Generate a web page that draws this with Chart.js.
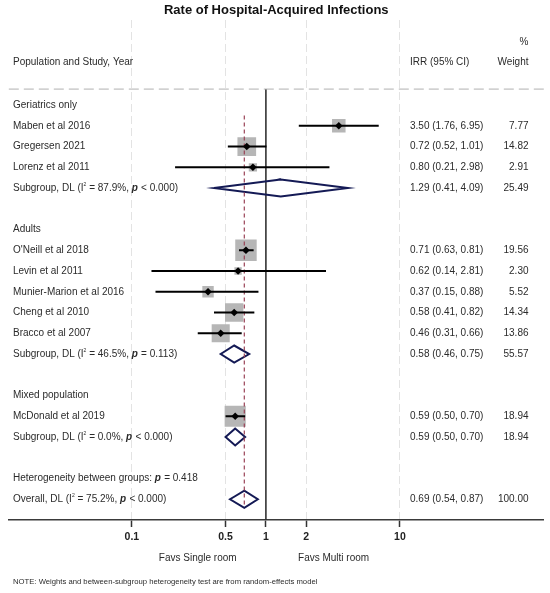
<!DOCTYPE html>
<html><head><meta charset="utf-8">
<script src="https://cdn.jsdelivr.net/npm/chart.js@4.4.1/dist/chart.umd.min.js"></script>
<style>html,body{margin:0;padding:0;background:#fff}#wrap{width:550px;height:593px;position:relative}</style>
</head><body><div id="wrap"><canvas id="c"></canvas></div>
<script>
// ---------- data ----------
const groupNames = ['Geriatrics only', 'Adults', 'Mixed population'];
const studyNames = ['Maben et al 2016', 'Gregersen 2021', 'Lorenz et al 2011',
  "O'Neill et al 2018", 'Levin et al 2011', 'Munier-Marion et al 2016', 'Cheng et al 2010', 'Bracco et al 2007',
  'McDonald et al 2019'];
const studyGroup  = [0, 0, 0, 1, 1, 1, 1, 1, 2];
const studyIRR    = [3.50, 0.72, 0.80, 0.71, 0.62, 0.37, 0.58, 0.46, 0.59];
const studyLow    = [1.76, 0.52, 0.21, 0.63, 0.14, 0.15, 0.41, 0.31, 0.50];
const studyHigh   = [6.95, 1.01, 2.98, 0.81, 2.81, 0.88, 0.82, 0.66, 0.70];
const studyWeight = [7.77, 14.82, 2.91, 19.56, 2.30, 5.52, 14.34, 13.86, 18.94];
const subIRR    = [1.29, 0.58, 0.59];
const subLow    = [0.41, 0.46, 0.50];
const subHigh   = [4.09, 0.75, 0.70];
const subWeight = [25.49, 55.57, 18.94];
const subI2     = [87.9, 46.5, 0.0];
const subP      = ['< 0.000', '= 0.113', '< 0.000'];
const hetP = '= 0.418';
const overallIRR = 0.69, overallLow = 0.54, overallHigh = 0.87, overallWeight = 100.00;
const overallI2 = 75.2, overallP = '< 0.000';
const xTickValues = [0.1, 0.5, 1, 2, 10];
const favLabels = ['Favs Single room', 'Favs Multi room'];
const favAt = [0.31, 3.2];
const titleText = 'Rate of Hospital-Acquired Infections';
const noteText = 'NOTE: Weights and between-subgroup heterogeneity test are from random-effects model';

// ---------- row layout ----------
const groupRow = [], studyRow = [], subRow = [];
let r = 0;
groupNames.forEach((g, gi) => {
  groupRow[gi] = r++;
  studyGroup.forEach((sg, si) => { if (sg === gi) studyRow[si] = r++; });
  subRow[gi] = r++;
  r++;
});
const hetRow = r++;
const overallRow = r++;
const axisRow = r;

const FAM = "'Liberation Sans', Arial, Helvetica, sans-serif";
const TXT = 10;

// ---------- datasets ----------
const ciData = [];
studyIRR.forEach((v, i) => {
  ciData.push({x: studyLow[i], y: studyRow[i]}, {x: studyHigh[i], y: studyRow[i]}, {x: null, y: null});
});
const diamondData = [];
const H = 0.41;
function addDiamond(est, lo, hi, row) {
  diamondData.push({x: lo, y: row}, {x: est, y: row - H}, {x: hi, y: row}, {x: est, y: row + H},
    {x: lo, y: row}, {x: est, y: row - H}, {x: null, y: null});
}
subIRR.forEach((v, i) => addDiamond(v, subLow[i], subHigh[i], subRow[i]));
addDiamond(overallIRR, overallLow, overallHigh, overallRow);

const boxData = studyIRR.map((v, i) => ({x: v, y: studyRow[i]}));
const boxRadius = studyWeight.map(w => 3.43 * Math.sqrt(w));

const datasets = [
  {label: 'estimate', data: studyIRR.map((v, i) => ({x: v, y: studyRow[i]})), pointStyle: 'rectRot',
    pointRadius: 3.8, backgroundColor: '#000', borderColor: '#000', borderWidth: 0, order: 0},
  {label: 'ci', data: ciData, showLine: true, borderColor: '#000', borderWidth: 2, pointRadius: 0,
    spanGaps: false, order: 1},
  {label: 'overall', data: [{x: overallIRR, y: 0.5}, {x: overallIRR, y: overallRow + 0.35}], showLine: true,
    borderColor: '#9a4256', borderWidth: 1.2, borderDash: [4, 3], pointRadius: 0, order: 2},
  {label: 'diamonds', data: diamondData, showLine: true, borderColor: '#141a55', borderWidth: 2,
    borderJoinStyle: 'miter', pointRadius: 0, spanGaps: false, order: 3},
  {label: 'weights', data: boxData, pointStyle: 'rect', pointRadius: boxRadius, backgroundColor: '#b6b6b6',
    borderWidth: 0, order: 4},
  {label: 'null', data: [{x: 1, y: -0.77}, {x: 1, y: axisRow}], showLine: true, borderColor: '#333',
    borderWidth: 1.6, pointRadius: 0, order: 5}
];

// ---------- text plugin ----------
function drawRich(ctx, parts, x, y, size) {
  let cx = x;
  for (const p of parts) {
    let dy = 0;
    if (p.s === 'sup') { ctx.font = `${size * 0.5}px ${FAM}`; dy = -size * 0.38; }
    else if (p.s === 'it') { ctx.font = `italic bold ${size}px ${FAM}`; }
    else { ctx.font = `${size}px ${FAM}`; }
    ctx.fillText(p.t, cx, y + dy);
    cx += ctx.measureText(p.t).width + (p.s === 'it' ? 0.5 : 0);
  }
}
const fmt = v => v.toFixed(2);
const ciText = (e, l, h) => `${fmt(e)} (${fmt(l)}, ${fmt(h)})`;

const textPlugin = {
  id: 'forestText',
  afterDraw(chart) {
    const {ctx, chartArea} = chart;
    const xs = chart.scales.x, ys = chart.scales.y;
    const Y = row => ys.getPixelForValue(row);
    const labelX = 13, irrX = 410, wRight = 528.5;
    ctx.save();
    ctx.fillStyle = '#2b2b2b';
    ctx.textBaseline = 'middle';
    ctx.font = `${TXT}px ${FAM}`;
    // header
    ctx.textAlign = 'left';
    ctx.fillText('Population and Study, Year', labelX, Y(-2.07));
    ctx.fillText('IRR (95% CI)', irrX, Y(-2.07));
    ctx.textAlign = 'right';
    ctx.fillText('Weight', wRight, Y(-2.07));
    ctx.fillText('%', wRight, Y(-3.05));
    // header rule
    ctx.save();
    ctx.strokeStyle = '#b0b0b0';
    ctx.lineWidth = 1;
    ctx.setLineDash([10, 5]);
    ctx.beginPath();
    ctx.moveTo(chartArea.left, Y(-0.77));
    ctx.lineTo(chartArea.right + 3, Y(-0.77));
    ctx.stroke();
    ctx.restore();
    // groups
    ctx.textAlign = 'left';
    groupNames.forEach((g, gi) => ctx.fillText(g, labelX, Y(groupRow[gi])));
    // studies
    studyNames.forEach((s, i) => {
      ctx.textAlign = 'left';
      ctx.fillText(s, labelX, Y(studyRow[i]));
      ctx.fillText(ciText(studyIRR[i], studyLow[i], studyHigh[i]), irrX, Y(studyRow[i]));
      ctx.textAlign = 'right';
      ctx.fillText(fmt(studyWeight[i]), wRight, Y(studyRow[i]));
    });
    // subgroups
    subIRR.forEach((v, i) => {
      ctx.textAlign = 'left';
      drawRich(ctx, [{t: 'Subgroup, DL (I'}, {t: '2', s: 'sup'}, {t: ' = ' + subI2[i].toFixed(1) + '%, '},
        {t: 'p', s: 'it'}, {t: ' ' + subP[i] + ')'}], labelX, Y(subRow[i]), TXT);
      ctx.font = `${TXT}px ${FAM}`;
      ctx.fillText(ciText(v, subLow[i], subHigh[i]), irrX, Y(subRow[i]));
      ctx.textAlign = 'right';
      ctx.fillText(fmt(subWeight[i]), wRight, Y(subRow[i]));
    });
    ctx.textAlign = 'left';
    drawRich(ctx, [{t: 'Heterogeneity between groups: '}, {t: 'p', s: 'it'}, {t: ' ' + hetP}], labelX, Y(hetRow), TXT);
    drawRich(ctx, [{t: 'Overall, DL (I'}, {t: '2', s: 'sup'}, {t: ' = ' + overallI2.toFixed(1) + '%, '},
      {t: 'p', s: 'it'}, {t: ' ' + overallP + ')'}], labelX, Y(overallRow), TXT);
    ctx.font = `${TXT}px ${FAM}`;
    ctx.fillText(ciText(overallIRR, overallLow, overallHigh), irrX, Y(overallRow));
    ctx.textAlign = 'right';
    ctx.fillText(fmt(overallWeight), wRight, Y(overallRow));
    // favours labels
    ctx.textAlign = 'center';
    favLabels.forEach((f, i) => ctx.fillText(f, xs.getPixelForValue(favAt[i]), 558));
    // note
    ctx.textAlign = 'left';
    ctx.font = `7.7px ${FAM}`;
    ctx.fillText(noteText, labelX, 582);
    ctx.restore();
  }
};

new Chart(document.getElementById('c'), {
  type: 'scatter',
  data: {datasets},
  plugins: [textPlugin],
  options: {
    responsive: true,
    maintainAspectRatio: false,
    animation: false,
    events: [],
    layout: {autoPadding: false, padding: {left: 8.8, right: 6.3, top: 0, bottom: 0}},
    plugins: {
      legend: {display: false},
      tooltip: {enabled: false},
      title: {display: true, text: titleText, color: '#111',
        font: {family: FAM, size: 13, weight: 'bold'}, padding: {top: 2.2, bottom: 2.2}}
    },
    scales: {
      x: {
        type: 'logarithmic',
        bounds: 'data',
        min: 0.01206, max: 118.35,
        afterBuildTicks: scale => { scale.ticks = xTickValues.map(v => ({value: v})); },
        afterFit: scale => { scale.height = 73; },
        ticks: {callback: v => String(v), autoSkip: false, maxRotation: 0, padding: 4, color: '#222',
          font: {family: FAM, size: 10.5, weight: 'bold'}},
        grid: {color: c => (c.tick && c.tick.value === 1) ? 'rgba(0,0,0,0)' : '#e3e3e3',
          lineWidth: 1, tickLength: 7, tickColor: '#333', tickWidth: 1.5},
        border: {display: true, color: '#3a3a3a', width: 1.6, dash: [8, 4]}
      },
      y: {
        type: 'linear', reverse: true, min: -4.1, max: axisRow, display: false
      }
    }
  }
});
</script>
</body></html>
